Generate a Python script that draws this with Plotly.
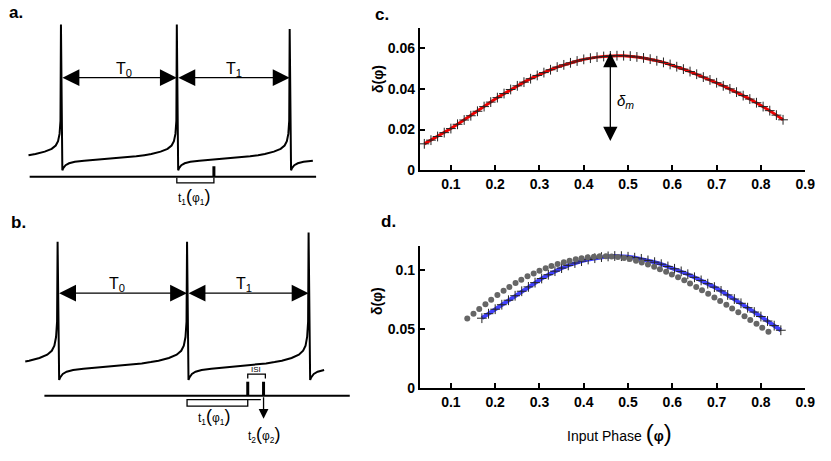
import plotly.graph_objects as go

W, H = 831, 461

# ---- schematic spike trains (time in ms, membrane potential in mV) ----
a_spikes = [0, 100, 197.4]
a_peaks = [30, 30, 27]
b_spikes = [0, 100, 193.9]
b_peaks = [10.4, 10.4, 15.7]

# one interspike interval, as fraction of the period after a spike
wave_phase = [0.012, 0.02, 0.04, 0.07, 0.12, 0.2, 0.33, 0.5, 0.65, 0.72, 0.75,
              0.78, 0.86, 0.92, 0.955, 0.975, 0.988, 0.996]
wave_mv = [-70, -68.5, -66.5, -65.2, -64.2, -63.4, -62.6, -61.6, -60.4, -59.6, -59.2,
           -58.8, -57.2, -55.3, -53.0, -50.0, -45.0, -36.0]

a_pulse = 132
b_pulses = [146.9, 159.1]

# ---- phase response curves ----
c_phase = [0.040, 0.055, 0.070, 0.085, 0.100, 0.115, 0.130, 0.145, 0.160, 0.175,
           0.190, 0.205, 0.220, 0.235, 0.250, 0.265, 0.280, 0.295, 0.310, 0.325,
           0.340, 0.355, 0.370, 0.385, 0.400, 0.415, 0.430, 0.445, 0.460, 0.475,
           0.490, 0.505, 0.520, 0.535, 0.550, 0.565, 0.580, 0.595, 0.610, 0.625,
           0.640, 0.655, 0.670, 0.685, 0.700, 0.715, 0.730, 0.745, 0.760, 0.775,
           0.790, 0.805, 0.820, 0.835, 0.850]
c_delta = [0.0130, 0.0148, 0.0166, 0.0185, 0.0205, 0.0226, 0.0247, 0.0268, 0.0290, 0.0313,
           0.0335, 0.0357, 0.0377, 0.0397, 0.0415, 0.0433, 0.0450, 0.0466, 0.0480, 0.0494,
           0.0507, 0.0518, 0.0528, 0.0537, 0.0545, 0.0551, 0.0556, 0.0559, 0.0562, 0.0563,
           0.0563, 0.0561, 0.0557, 0.0552, 0.0546, 0.0538, 0.0530, 0.0520, 0.0509, 0.0497,
           0.0485, 0.0472, 0.0458, 0.0444, 0.0430, 0.0415, 0.0400, 0.0384, 0.0367, 0.0350,
           0.0332, 0.0313, 0.0293, 0.0271, 0.0248]

d_phase = [0.170, 0.185, 0.200, 0.215, 0.230, 0.245, 0.260, 0.275, 0.290, 0.305,
           0.320, 0.335, 0.350, 0.365, 0.380, 0.395, 0.410, 0.425, 0.440, 0.455,
           0.470, 0.485, 0.500, 0.515, 0.530, 0.545, 0.560, 0.575, 0.590, 0.605,
           0.620, 0.635, 0.650, 0.665, 0.680, 0.695, 0.710, 0.725, 0.740, 0.755,
           0.770, 0.785, 0.800, 0.815, 0.830, 0.845]
d_delta = [0.0592, 0.0630, 0.0668, 0.0706, 0.0744, 0.0782, 0.0820, 0.0857, 0.0893, 0.0928,
           0.0960, 0.0990, 0.1016, 0.1039, 0.1059, 0.1075, 0.1089, 0.1100, 0.1109, 0.1115,
           0.1118, 0.1117, 0.1112, 0.1104, 0.1094, 0.1081, 0.1066, 0.1049, 0.1030, 0.1010,
           0.0988, 0.0964, 0.0938, 0.0912, 0.0884, 0.0855, 0.0823, 0.0789, 0.0754, 0.0718,
           0.0681, 0.0644, 0.0606, 0.0568, 0.0529, 0.0490]

d_obs_phase = [0.137, 0.151, 0.164, 0.178, 0.191, 0.205, 0.219, 0.232, 0.246, 0.259,
               0.273, 0.287, 0.300, 0.314, 0.327, 0.341, 0.355, 0.368, 0.382, 0.395,
               0.409, 0.423, 0.436, 0.450, 0.463, 0.477, 0.491, 0.504, 0.518, 0.531,
               0.545, 0.559, 0.572, 0.586, 0.599, 0.613, 0.627, 0.640, 0.654, 0.667,
               0.681, 0.695, 0.708, 0.722, 0.735, 0.749, 0.763, 0.776, 0.790, 0.803,
               0.817]
d_obs_delta = [0.0589, 0.0630, 0.0669, 0.0709, 0.0748, 0.0788, 0.0824, 0.0857, 0.0889, 0.0918,
               0.0946, 0.0971, 0.0994, 0.1015, 0.1034, 0.1051, 0.1066, 0.1079, 0.1090, 0.1100,
               0.1108, 0.1113, 0.1116, 0.1117, 0.1115, 0.1110, 0.1102, 0.1092, 0.1079, 0.1064,
               0.1047, 0.1028, 0.1007, 0.0985, 0.0962, 0.0938, 0.0913, 0.0885, 0.0857, 0.0829,
               0.0799, 0.0768, 0.0738, 0.0706, 0.0675, 0.0642, 0.0609, 0.0577, 0.0544, 0.0511,
               0.0478]

x_ticks = [0.1, 0.2, 0.3, 0.4, 0.5, 0.6, 0.7, 0.8, 0.9]
c_yticks = [0, 0.02, 0.04, 0.06]
c_ytext = ["0", "0.02", "0.04", "0.06"]
d_yticks = [0, 0.05, 0.1]
d_ytext = ["0", "0.05", "0.1"]

SANS = "Liberation Sans, Arial, sans-serif"
TICKFONT = dict(family=SANS, size=14, color="black", weight="bold")
LABFONT = dict(family=SANS, size=14, color="black")


def spike_train(spikes, peaks, lead, tail):
    ts, vs = [], []
    T0 = spikes[1] - spikes[0]
    for p, v in zip(wave_phase, wave_mv):
        if p >= lead:
            ts.append(spikes[0] - (1 - p) * T0)
            vs.append(v)
    for i, (s, pk) in enumerate(zip(spikes, peaks)):
        ts.append(s)
        vs.append(pk)
        last = i == len(spikes) - 1
        T = T0 if last else spikes[i + 1] - s
        for p, v in zip(wave_phase, wave_mv):
            if last and p > tail:
                break
            ts.append(s + p * T)
            vs.append(v)
    return ts, vs


def px(x):
    return x / W


def py(y):
    return 1 - y / H


fig = go.Figure()

# panel a
ta, va = spike_train(a_spikes, a_peaks, 0.72, 0.2)
fig.add_trace(go.Scatter(x=ta, y=va, mode="lines", line=dict(color="black", width=2),
                         xaxis="x", yaxis="y"))
fig.add_trace(go.Scatter(x=[-27, 220.2], y=[-74.5, -74.5], mode="lines",
                         line=dict(color="black", width=2), xaxis="x", yaxis="y"))
fig.add_trace(go.Scatter(x=[a_pulse, a_pulse], y=[-74.5, -67.3], mode="lines",
                         line=dict(color="black", width=3), xaxis="x", yaxis="y"))
fig.add_trace(go.Scatter(x=[a_spikes[1], a_spikes[1], a_pulse, a_pulse],
                         y=[-75.2, -78.6, -78.6, -75.2], mode="lines",
                         line=dict(color="black", width=1.3), xaxis="x", yaxis="y"))

# panel b
tb, vb = spike_train(b_spikes, b_peaks, 0.75, 0.13)
fig.add_trace(go.Scatter(x=tb, y=vb, mode="lines", line=dict(color="black", width=2),
                         xaxis="x2", yaxis="y2"))
fig.add_trace(go.Scatter(x=[-10.2, 225.7], y=[-79.1, -79.1], mode="lines",
                         line=dict(color="black", width=2), xaxis="x2", yaxis="y2"))
for p in b_pulses:
    fig.add_trace(go.Scatter(x=[p, p], y=[-79.1, -71], mode="lines",
                             line=dict(color="black", width=3), xaxis="x2", yaxis="y2"))
fig.add_trace(go.Scatter(x=[157, b_spikes[1], b_spikes[1], b_pulses[0], b_pulses[0]],
                         y=[-81.4, -81.4, -85.2, -85.2, -81.4], mode="lines",
                         line=dict(color="black", width=1.3), xaxis="x2", yaxis="y2"))
fig.add_trace(go.Scatter(x=[b_pulses[0], b_pulses[0], 160.5, 160.5],
                         y=[-69.1, -66.6, -66.6, -69.1], mode="lines",
                         line=dict(color="black", width=1.3), xaxis="x2", yaxis="y2"))

# panel c
fig.add_trace(go.Scatter(x=c_phase, y=c_delta, mode="lines",
                         line=dict(color="#ee0000", width=3), xaxis="x3", yaxis="y3"))
fig.add_trace(go.Scatter(x=c_phase, y=c_delta, mode="markers",
                         marker=dict(symbol="cross-thin", size=7,
                                     line=dict(color="#222222", width=1)),
                         xaxis="x3", yaxis="y3"))

# panel d
fig.add_trace(go.Scatter(x=d_phase, y=d_delta, mode="lines",
                         line=dict(color="#4040ff", width=4), xaxis="x4", yaxis="y4"))
fig.add_trace(go.Scatter(x=d_phase, y=d_delta, mode="markers",
                         marker=dict(symbol="cross-thin", size=7,
                                     line=dict(color="#222222", width=1)),
                         xaxis="x4", yaxis="y4"))
fig.add_trace(go.Scatter(x=d_obs_phase, y=d_obs_delta, mode="markers",
                         marker=dict(symbol="circle", size=6, color="#666666"),
                         xaxis="x4", yaxis="y4"))

hidden = dict(visible=False, fixedrange=True)
plot_x = dict(range=[0.03, 0.9], domain=[px(425), px(815)], tickvals=x_ticks,
              showline=True, linecolor="black", linewidth=2, ticks="inside",
              ticklen=5, tickwidth=2, tickcolor="black", showgrid=False,
              zeroline=False, tickfont=TICKFONT)
plot_y = dict(showline=True, linecolor="black", linewidth=2, ticks="inside",
              ticklen=5, tickwidth=2, tickcolor="black", showgrid=False,
              zeroline=False, tickfont=TICKFONT)

fig.update_layout(
    width=W, height=H, margin=dict(l=0, r=0, t=0, b=0),
    paper_bgcolor="white", plot_bgcolor="rgba(0,0,0,0)", showlegend=False,
    xaxis=dict(hidden, domain=[0, px(340)], range=[-52.6, 237.3]),
    yaxis=dict(hidden, domain=[py(220), 1], range=[-101.5, 46.9]),
    xaxis2=dict(hidden, domain=[0, px(370)], range=[-44.5, 237.9]),
    yaxis2=dict(hidden, domain=[0, py(220)], range=[-112.46, 25.26]),
    xaxis3=dict(plot_x, anchor="y3"),
    yaxis3=dict(plot_y, anchor="x3", domain=[py(173.3), py(28.3)], range=[0, 0.07],
                tickvals=c_yticks, ticktext=c_ytext),
    xaxis4=dict(plot_x, anchor="y4"),
    yaxis4=dict(plot_y, anchor="x4", domain=[py(395), py(250.7)], range=[0, 0.12],
                tickvals=d_yticks, ticktext=d_ytext),
)

C = dict(xanchor="center", yanchor="middle", showarrow=False)
arrow = dict(showarrow=True, text="", arrowhead=2, arrowside="end+start",
             arrowsize=2.6, arrowwidth=1.3, arrowcolor="black", standoff=0, startstandoff=0)
LETTER = dict(family=SANS, size=17, color="black", weight="bold")
ann = [
    # panel letters
    dict(C, x=px(16), y=py(13), xref="paper", yref="paper", text="a.", font=LETTER),
    dict(C, x=px(19), y=py(226), xref="paper", yref="paper", text="b.", font=LETTER),
    dict(C, x=px(387), y=py(15), xref="paper", yref="paper", text="c.", font=LETTER),
    dict(C, x=px(393), y=py(225), xref="paper", yref="paper", text="d.", font=LETTER),
    # period arrows a
    dict(arrow, x=a_spikes[1], y=-6.4, ax=a_spikes[0], ay=-6.4, xref="x", yref="y",
         axref="x", ayref="y"),
    dict(arrow, x=a_spikes[2], y=-6.4, ax=a_spikes[1], ay=-6.4, xref="x", yref="y",
         axref="x", ayref="y"),
    dict(C, x=54, y=-0.5, xref="x", yref="y", text="T<sub>0</sub>", font=dict(LABFONT, size=16)),
    dict(C, x=149, y=-0.5, xref="x", yref="y", text="T<sub>1</sub>", font=dict(LABFONT, size=16)),
    dict(C, x=115, y=-88, xref="x", yref="y", font=dict(LABFONT, size=12),
         text="t<sub>1</sub><span style='font-size:18px'>(</span>φ<sub>1</sub><span style='font-size:18px'>)</span>"),
    # period arrows b
    dict(arrow, x=b_spikes[1], y=-19.5, ax=b_spikes[0], ay=-19.5, xref="x2", yref="y2",
         axref="x2", ayref="y2"),
    dict(arrow, x=b_spikes[2], y=-19.5, ax=b_spikes[1], ay=-19.5, xref="x2", yref="y2",
         axref="x2", ayref="y2"),
    dict(C, x=45.8, y=-14.2, xref="x2", yref="y2", text="T<sub>0</sub>", font=dict(LABFONT, size=16)),
    dict(C, x=143.8, y=-14.2, xref="x2", yref="y2", text="T<sub>1</sub>", font=dict(LABFONT, size=16)),
    dict(x=b_pulses[1], y=-92.6, ax=b_pulses[1], ay=-79.1, xref="x2", yref="y2",
         axref="x2", ayref="y2", showarrow=True, text="", arrowhead=2, arrowsize=1.5,
         arrowwidth=1.3, arrowcolor="black", standoff=0),
    dict(C, x=153.5, y=-63.8, xref="x2", yref="y2", text="ISI", font=dict(LABFONT, size=8)),
    dict(C, x=120.9, y=-91.4, xref="x2", yref="y2", font=dict(LABFONT, size=12),
         text="t<sub>1</sub><span style='font-size:18px'>(</span>φ<sub>1</sub><span style='font-size:18px'>)</span>"),
    dict(C, x=159.1, y=-101.8, xref="x2", yref="y2", font=dict(LABFONT, size=12),
         text="t<sub>2</sub><span style='font-size:18px'>(</span>φ<sub>2</sub><span style='font-size:18px'>)</span>"),
    # delta_m arrow in c
    dict(arrow, x=0.46, y=0.0577, ax=0.46, ay=0.0136, xref="x3", yref="y3",
         axref="x3", ayref="y3", arrowsize=2.2),
    dict(C, x=0.494, y=0.0336, xref="x3", yref="y3", font=dict(LABFONT, size=15),
         text="<i>δ</i><sub><i>m</i></sub>"),
    # axis titles
    dict(C, x=px(382), y=py(80), xref="paper", yref="paper", textangle=-90,
         font=dict(LABFONT, size=14, weight="bold"), text="δ(φ)"),
    dict(C, x=px(381), y=py(306), xref="paper", yref="paper", textangle=-90,
         font=dict(LABFONT, size=14, weight="bold"), text="δ(φ)"),
    dict(C, x=px(627), y=py(440), xref="paper", yref="paper",
         font=dict(family=SANS, size=14, color="black"),
         text="Input Phase <span style='font-size:24px'>(</span><b>φ</b><span style='font-size:24px'>)</span>"),
]
fig.update_layout(annotations=ann)

fig.write_html("out.html", config={"displayModeBar": False, "staticPlot": True},
               post_script="document.body.style.margin='0';")
